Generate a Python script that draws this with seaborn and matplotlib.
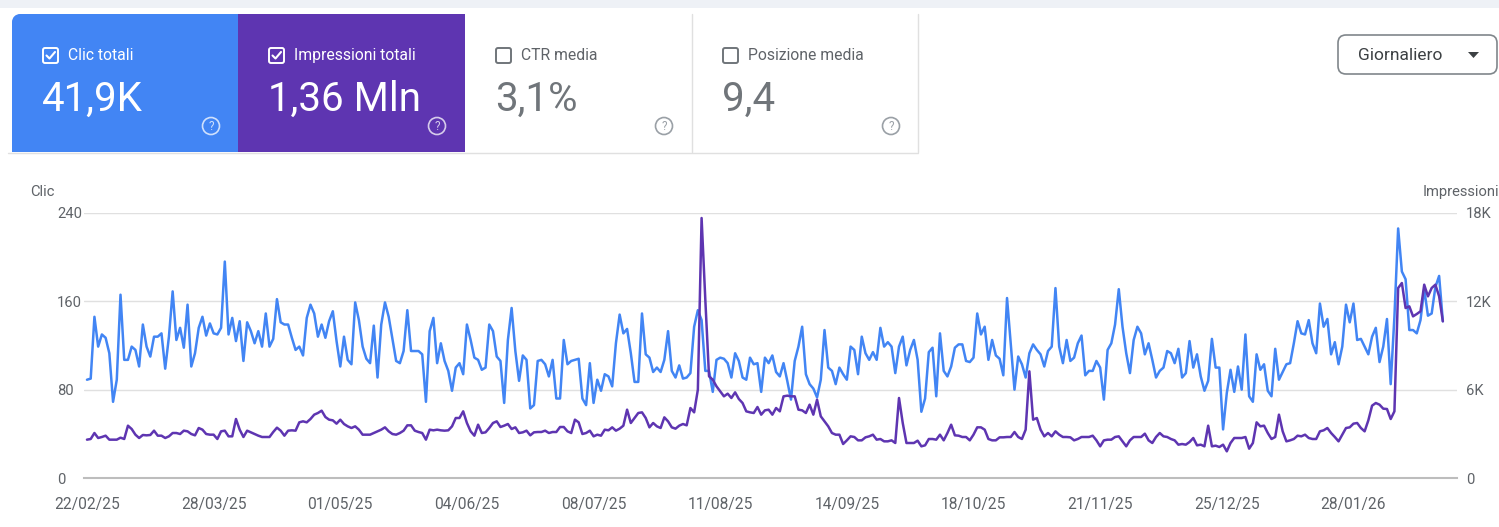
import pandas as pd
import matplotlib
matplotlib.use('Agg')
import matplotlib.pyplot as plt
import matplotlib.dates as mdates
from matplotlib.patches import Rectangle, Circle, FancyBboxPatch, Polygon
from matplotlib.lines import Line2D
import seaborn as sns

clic = [89, 90, 146, 119, 130, 127, 113, 69, 89, 166, 107, 107, 119, 116, 101, 139, 119, 110, 128, 128,
        131, 99, 128, 169, 125, 136, 118, 157, 101, 113, 136, 146, 129, 140, 131, 130, 136,
        196, 130, 145, 124, 142, 106, 141, 133, 122, 133, 119, 149, 119, 126, 162, 141, 139, 139, 127, 116,
        119, 111, 145, 157, 149, 128, 139, 127, 142, 151, 124, 101, 128, 107, 103, 159,
        143, 119, 108, 104, 138, 91, 139, 159, 146, 126, 106, 104, 115, 152, 115, 115, 115, 112, 69, 133,
        145, 104, 122, 106, 97, 79, 100, 104, 94, 139, 125, 109, 107, 98, 100, 139,
        133, 110, 106, 68, 125, 154, 115, 88, 111, 107, 63, 66, 106, 107, 103, 92, 107, 72, 72, 125,
        103, 106, 107, 108, 72, 66, 104, 68, 89, 79, 94, 92, 83, 122, 148, 131,
        135, 113, 87, 87, 149, 112, 109, 96, 100, 96, 107, 133, 97, 91, 102, 90, 91, 95, 137, 152,
        143, 97, 97, 78, 107, 109, 108, 104, 91, 113, 106, 91, 89, 109, 103, 104, 78,
        109, 104, 111, 96, 92, 104, 88, 71, 106, 119, 137, 94, 85, 81, 73, 89, 134, 100, 97, 85,
        100, 94, 89, 119, 116, 94, 128, 113, 107, 114, 107, 136, 119, 123, 119, 95,
        119, 128, 102, 116, 125, 107, 60, 72, 114, 118, 74, 131, 97, 92, 101, 118, 121, 121, 106, 105,
        109, 149, 130, 137, 107, 125, 111, 108, 93, 163, 122, 80, 110, 103, 91, 113,
        121, 116, 112, 101, 115, 119, 172, 119, 104, 125, 106, 109, 122, 129, 93, 97, 97, 106, 100, 71,
        116, 122, 139, 171, 137, 113, 95, 125, 137, 131, 112, 122, 107, 91, 97, 100,
        115, 113, 104, 117, 91, 95, 124, 100, 112, 92, 79, 88, 126, 100, 100, 44, 77, 98, 78, 101,
        80, 130, 74, 69, 112, 98, 103, 79, 74, 117, 89, 96, 103, 104, 122, 142, 131,
        130, 143, 122, 113, 158, 137, 144, 112, 123, 103, 119, 157, 141, 158, 125, 126, 119, 112, 128, 136,
        105, 119, 144, 85, 146, 226, 187, 180, 134, 134, 131, 143, 171, 147, 149, 173, 183, 142]

# Impressioni giornaliere (asse destro)
impressioni = [2604, 2649, 3056, 2717, 2785, 2875, 2604, 2604, 2604, 2739, 2649, 3554, 3328, 2943, 2717, 2921,
               2898, 2921, 3215, 2875, 2875, 2717, 2830, 3056, 3056, 2988, 3215, 3170, 2988, 2898, 3396, 3283,
               2988, 2943, 2943, 2649, 3170,
               3215, 2830, 2830, 4007, 3283, 2785, 3215, 3102, 2988, 2875, 2785, 2785, 2785, 3124, 3419, 3215,
               2875, 3215, 3238, 3215, 3781, 3849, 3781, 4007, 4302, 4415, 4573, 4143, 3962, 3917, 3690, 3962,
               3668, 3509, 3396, 3509,
               3283, 2943, 2943, 2943, 3056, 3170, 3283, 3441, 3170, 2988, 2943, 3056, 3215, 3577, 3577, 3215,
               3124, 3056, 2604, 3283, 3238, 3283, 3238, 3215, 3238, 3509, 4075, 4075, 4528, 3736, 3170, 2875,
               3622, 3056, 3102, 3396,
               3736, 3849, 3464, 3554, 3668, 3328, 3441, 3056, 3102, 3215, 2898, 3102, 3124, 3124, 3215, 3056,
               3124, 3124, 3464, 3464, 3170, 3056, 3962, 3781, 2988, 3056, 3215, 2830, 2943, 2875, 3283, 3238,
               3441, 3215, 3351, 3554,
               4641, 3736, 4075, 4415, 4460, 4075, 3441, 3736, 3509, 3396, 4120, 3849, 3441, 3351, 3554, 3668,
               3577, 4754, 4460, 6000, 17659, 12112, 6905, 6679, 6226, 5886, 5547, 5728, 5434, 5818, 5366, 5094,
               4528, 4460, 4415, 4822, 4302,
               4596, 4641, 4302, 4754, 4528, 5547, 5592, 5547, 5547, 4641, 4596, 4415, 4981, 4302, 5320, 4188,
               3849, 3509, 3056, 2943, 2943, 2309, 2558, 2830, 2785, 2558, 2558, 2762, 2830, 2943, 2604, 2649,
               2490, 2490, 2558, 2377,
               5434, 3736, 2377, 2377, 2377, 2536, 2151, 2219, 2649, 2649, 2604, 2943, 2558, 3056, 3622, 2898,
               2875, 2785, 2785, 2558, 2943, 3441, 3441, 3283, 2649, 2558, 2558, 2762, 2762, 2785, 2785, 3124,
               2785, 2649, 3283, 7245,
               3962, 4075, 3283, 2830, 3056, 2830, 3170, 2943, 2785, 2785, 2762, 2558, 2649, 2785, 2785, 2785,
               2875, 2558, 2151, 2558, 2604, 2604, 2785, 2830, 2490, 2151, 2558, 2785, 2785, 2785, 3011, 2558,
               2377, 2785, 3056, 2830,
               2785, 2649, 2558, 2264, 2309, 2264, 2445, 2717, 2219, 2264, 2151, 3554, 2151, 2196, 2106, 2264,
               1811, 2377, 2717, 2717, 2717, 2785, 1992, 2377, 3781, 3509, 3554, 3056, 2649, 2785, 4302, 3170,
               2490, 2558, 2649, 2875, 2830,
               2943, 2717, 2649, 2649, 3170, 3238, 3396, 3056, 2785, 2490, 2943, 3396, 3441, 3690, 3736, 3396,
               3170, 3917, 4913, 5094, 4981, 4709, 4686, 4007, 4528, 12905, 13244, 11546, 11660, 10980, 11139,
               11320, 13131, 12339, 12905, 13131, 12339, 10641]

date = pd.date_range('2025-02-22', periods=len(clic), freq='D')
tick_date = pd.date_range('2025-02-22', periods=11, freq='34D')
clic_ticks = [0, 80, 160, 240]
impr_ticks = [0, 6000, 12000, 18000]
impr_labels = ['0', '6K', '12K', '18K']

schede = ['Clic totali', 'Impressioni totali', 'CTR media', 'Posizione media']
valori = ['41,9K', '1,36 Mln', '3,1%', '9,4']

BLU = '#4285f4'
VIOLA = '#5e35b1'
GRIGIO = '#5f6368'

sns.set_style('white')
plt.rcParams['font.family'] = ['Roboto', 'DejaVu Sans']

W, H = 1499, 527
fig = plt.figure(figsize=(W / 100, H / 100), dpi=100)

df = pd.DataFrame({'data': date, 'clic': clic, 'impressioni': impressioni})

# grafico principale
ax = fig.add_axes([84 / W, 1 - 478 / H, (1457 - 84) / W, (478 - 213) / H])
ax2 = ax.twinx()
sns.lineplot(data=df, x='data', y='clic', ax=ax, color=BLU, linewidth=1.8)
sns.lineplot(data=df, x='data', y='impressioni', ax=ax2, color=VIOLA, linewidth=1.8)

ax.set_xlim(date[0] - pd.Timedelta(days=0.8), date[-1] + pd.Timedelta(days=3.8))
ax.set_ylim(0, 240)
ax2.set_ylim(0, 18000)
ax.set_yticks(clic_ticks)
ax2.set_yticks(impr_ticks)
ax2.set_yticklabels(impr_labels)
ax.set_xticks(tick_date)
ax.xaxis.set_major_formatter(mdates.DateFormatter('%d/%m/%y'))
ax.set_xlabel('')
ax.set_ylabel('')
ax2.set_ylabel('')

ax.grid(axis='y', color='#e0e0e0', linewidth=1)
ax.grid(axis='x', visible=False)
for s in ['top', 'left', 'right']:
    ax.spines[s].set_visible(False)
    ax2.spines[s].set_visible(False)
ax2.spines['bottom'].set_visible(False)
ax.spines['bottom'].set_color('#bdbdbd')
ax.spines['bottom'].set_linewidth(1.5)

ax.tick_params(axis='y', length=0, pad=19.5, labelsize=10.6, labelcolor=GRIGIO)
for lab in ax.get_yticklabels():
    lab.set_horizontalalignment('left')
ax2.tick_params(axis='y', length=0, pad=6.5, labelsize=10.6, labelcolor=GRIGIO)
ax.tick_params(axis='x', length=0, pad=14, labelsize=11.2, labelcolor=GRIGIO)

# intestazione in coordinate pixel
hdr = fig.add_axes([0, 0, 1, 1], zorder=-1)
hdr.set_xlim(0, W)
hdr.set_ylim(H, 0)
hdr.axis('off')

hdr.add_patch(Rectangle((0, 0), W, 8, color='#eef1f6', lw=0))

x0 = [12, 238, 465, 692]
larghezza = 227
colori = [BLU, VIOLA, 'white', 'white']
for i, nome in enumerate(schede):
    x = x0[i]
    pieno = i < 2
    if i == 0:
        hdr.add_patch(Rectangle((x, 22), larghezza, 130, color=colori[i], lw=0))
        hdr.add_patch(Rectangle((x + 8, 14), larghezza - 8, 138, color=colori[i], lw=0))
        hdr.add_patch(Circle((x + 8, 22), 8, color=colori[i], lw=0))
    else:
        hdr.add_patch(Rectangle((x, 14), larghezza, 138, color=colori[i], lw=0))
    testo = 'white' if pieno else GRIGIO
    numero = 'white' if pieno else '#70757a'
    bordo = 'white' if pieno else '#70757a'
    # casella di spunta
    hdr.add_patch(FancyBboxPatch((x + 31, 48), 15, 15, boxstyle='round,pad=0,rounding_size=2',
                                 fc='none', ec=bordo, lw=1.4))
    if pieno:
        hdr.add_line(Line2D([x + 34.5, x + 37.5, x + 43], [55.5, 58.5, 52],
                            color='white', lw=1.5, solid_capstyle='round'))
    hdr.text(x + 56, 55.5, nome, color=testo, fontsize=11.3, va='center', ha='left')
    hdr.text(x + 30, 99, valori[i], color=numero, fontsize=29, va='center', ha='left')
    # icona di aiuto
    cx = x + 199
    alfa = 0.75 if pieno else 1
    hdr.add_patch(Circle((cx, 126), 8.5, fc='none', ec=bordo if pieno else '#9aa0a6', lw=1.2, alpha=alfa))
    hdr.text(cx, 126.5, '?', color=bordo if pieno else '#9aa0a6', fontsize=8.5, ha='center', va='center',
             alpha=alfa)

hdr.add_line(Line2D([692, 692], [14, 152], color='#e0e0e0', lw=1))
hdr.add_line(Line2D([918, 918], [14, 152], color='#e0e0e0', lw=1))
hdr.add_line(Line2D([8, 918], [152.5, 152.5], color='#e0e0e0', lw=1))

# menu a tendina
hdr.add_patch(FancyBboxPatch((1338, 35), 159, 39, boxstyle='round,pad=0,rounding_size=8',
                             fc='white', ec='#80868b', lw=1.2))
hdr.text(1358, 55, 'Giornaliero', color='#3c4043', fontsize=12.5, va='center', ha='left')
hdr.add_patch(Polygon([[1468, 52], [1479, 52], [1473.5, 58]], closed=True, color='#3c4043', lw=0))

# titoli degli assi
hdr.text(30, 192, 'Clic', color=GRIGIO, fontsize=10.6, va='center', ha='left')
hdr.text(1499, 192, 'Impressioni', color=GRIGIO, fontsize=10.6, va='center', ha='right')

fig.savefig('out.png', dpi=100, facecolor='white')
